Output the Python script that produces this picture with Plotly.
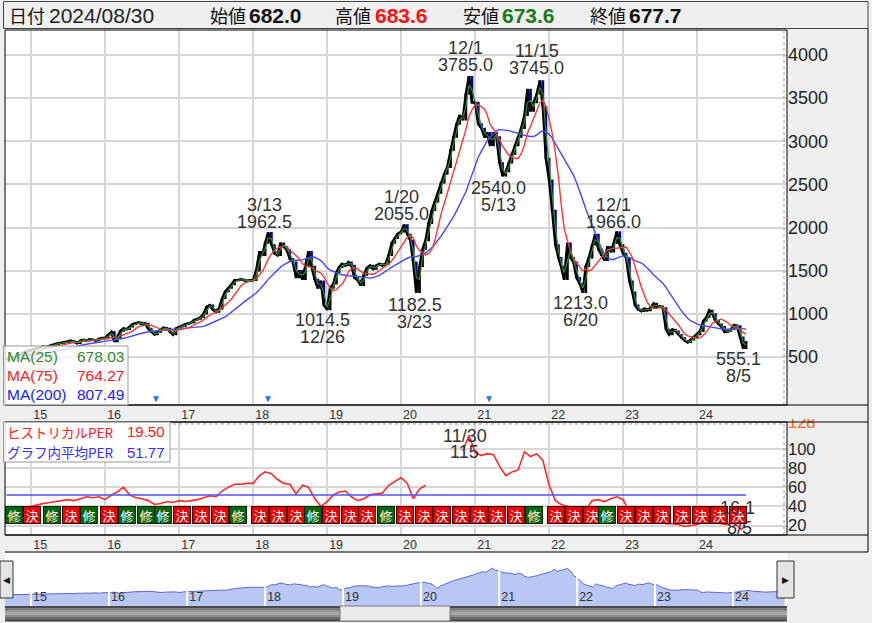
import plotly.graph_objects as go
import pandas as pd

W, H = 872, 623
def PX(x): return x / W
def PY(y): return 1 - y / H

NUM = "Liberation Sans, Arial, sans-serif"
JP = "Noto Sans CJK JP, sans-serif"

# ---------------- DATA ----------------
# closing prices, twice a month (1st and 16th), starting 2014-09-01
close_2014 = [470, 480, 500, 490, 520, 540, 560, 570]
close_2015 = [580, 590, 600, 610, 620, 615, 630, 640, 650, 660, 665, 670,
              680, 690, 675, 660, 690, 700, 690, 705, 700, 690, 710, 720]
close_2016 = [720, 760, 790, 680, 730, 800, 830, 820, 850, 880, 890, 900,
              880, 890, 830, 790, 760, 790, 820, 840, 830, 790, 760, 830]
close_2017 = [850, 860, 880, 890, 900, 930, 940, 960, 1000, 1080, 1100, 1050,
              1020, 1060, 1180, 1260, 1300, 1340, 1390, 1390, 1400, 1390, 1380, 1390]
close_2018 = [1390, 1500, 1720, 1680, 1820, 1940, 1800, 1700, 1680, 1820, 1780, 1740,
              1640, 1600, 1420, 1500, 1400, 1560, 1720, 1550, 1400, 1300, 1380, 1100]
close_2019 = [1050, 1300, 1350, 1480, 1540, 1580, 1560, 1600, 1560, 1420, 1390, 1330,
              1450, 1530, 1560, 1520, 1560, 1580, 1560, 1580, 1680, 1820, 1880, 1930]
close_2020 = [1950, 2030, 1920, 1850, 1600, 1250, 1550, 1750, 1850, 2050, 2200, 2300,
              2400, 2520, 2620, 2700, 2900, 3050, 3200, 3300, 3250, 3550, 3750, 3450]
close_2021 = [3450, 3200, 3150, 3050, 3100, 2950, 3100, 3050, 2750, 2600, 2650, 2750,
              2850, 2950, 3050, 3150, 3300, 3600, 3350, 3450, 3550, 3700, 3400, 2800]
close_2022 = [2550, 2200, 1800, 1650, 1550, 1400, 1820, 1650, 1600, 1420, 1350, 1250,
              1550, 1650, 1800, 1920, 1750, 1680, 1620, 1780, 1720, 1820, 1950, 1800]
close_2023 = [1700, 1650, 1380, 1250, 1100, 1050, 1030, 1060, 1040, 1070, 1120, 1080,
              1090, 1070, 820, 760, 820, 800, 760, 720, 690, 670, 700, 730]
close_2024 = [760, 800, 920, 960, 1040, 1000, 920, 880, 850, 790, 800, 820,
              870, 860, 730, 600]
last_date = "2024-08-30"
last_close = 677.7

# historical PER, monthly (1st of month), starting 2014-09
per_2014 = [34, 36, 37, 39]
per_2015 = [40, 42, 43, 44, 45, 46, 47, 46, 48, 50, 49, 50]
per_2016 = [47, 52, 55, 60, 52, 49, 48, 46, 42, 43, 45, 44]
per_2017 = [46, 45, 46, 47, 49, 51, 50, 56, 60, 63, 63, 64]
per_2018 = [64, 72, 76, 74, 68, 64, 63, 53, 62, 60, 48, 40]
per_2019 = [45, 52, 55, 56, 50, 46, 48, 52, 53, 54, 62, 66]
per_2020 = [70, 64, 48, 58, 62, None, None, None, None, None, 98, 114]
per_2021 = [96, 93, 95, 94, 82, 72, 76, 78, 97, 92, 95, 88]
per_2022 = [62, 46, 42, 40, 38, 33, 36, 46, 47, 45, 48, 50]
per_2023 = [47, 34, 28, 28, 30, 30, 29, 22, 22, 21, 19, 20]
per_2024 = [21, 24, 26, 24, 22, 21, 23]
per_tail_dates = ["2024-08-05", "2024-08-30"]
per_tail_vals = [16.1, 19.5]
per_average = 51.77

# labelled highs / lows
hi_dates = ["2018-03-13", "2020-01-20", "2020-12-01", "2021-11-15", "2022-12-01"]
hi_vals = [1962.5, 2055.0, 3785.0, 3745.0, 1966.0]
lo_dates = ["2018-12-26", "2020-03-23", "2021-05-13", "2022-06-20", "2024-08-05"]
lo_vals = [1014.5, 1182.5, 2540.0, 1213.0, 555.1]
per_hi_date, per_hi_val = "2020-11-30", 115
per_lo_date, per_lo_val = "2024-08-05", 16.1

# earnings events (修 = revision, 決 = results)
earn_dates = ["2014-10-10", "2015-01-05", "2015-04-12", "2015-07-19", "2015-10-12",
              "2016-01-19", "2016-04-19", "2016-07-19", "2016-10-12", "2017-01-15",
              "2017-04-19", "2017-07-19", "2017-10-19", "2018-02-03", "2018-05-04",
              "2018-07-31", "2018-10-23", "2019-01-19", "2019-04-23", "2019-07-19",
              "2019-10-19", "2020-01-19", "2020-04-23", "2020-07-19", "2020-10-23",
              "2021-01-19", "2021-04-19", "2021-07-19", "2021-10-19", "2022-02-03",
              "2022-05-04", "2022-07-31", "2022-10-12", "2023-01-15", "2023-04-12",
              "2023-07-12", "2023-10-19", "2024-01-19", "2024-04-19", "2024-07-19"]
earn_kinds = list("修決修決修決修修修決決決修決決決修決決決修決決決決決決決修決決決修決決決決決決決")

# split markers
mark_dates = ["2016-09-09", "2018-03-14", "2021-03-10"]

years = list(range(2015, 2025))
year_labels = [f"{y % 100:02d}" for y in years]

header_date = "2024/08/30"
header_open, header_high, header_low, header_close = "682.0", "683.6", "673.6", "677.7"
ma_names = ["MA(25)", "MA(75)", "MA(200)"]
ma_values = ["678.03", "764.27", "807.49"]
per_names = ["ヒストリカルPER", "グラフ内平均PER"]
per_values = ["19.50", "51.77"]

# ---------------- BUILD SERIES ----------------
def semimonthly(y, m, n):
    out, h = [], 0
    for _ in range(n):
        out.append(f"{y}-{m:02d}-{'01' if h == 0 else '16'}")
        h += 1
        if h == 2:
            h = 0
            m += 1
            if m == 13:
                m, y = 1, y + 1
    return out

def monthly(y, m, n):
    out = []
    for _ in range(n):
        out.append(f"{y}-{m:02d}-01")
        m += 1
        if m == 13:
            m, y = 1, y + 1
    return out

closes = (close_2014 + close_2015 + close_2016 + close_2017 + close_2018 + close_2019 +
          close_2020 + close_2021 + close_2022 + close_2023 + close_2024)
dates = semimonthly(2014, 9, len(closes)) + [last_date]
closes = closes + [last_close]
opens = [closes[0]] + closes[:-1]
highs = [max(o, c) for o, c in zip(opens, closes)]
lows = [min(o, c) for o, c in zip(opens, closes)]
s = pd.Series(closes)
ma25 = s.rolling(2, min_periods=1).mean()
ma75 = s.rolling(7, min_periods=1).mean()
ma200 = s.rolling(19, min_periods=1).mean()

per_vals = (per_2014 + per_2015 + per_2016 + per_2017 + per_2018 + per_2019 + per_2020 +
            per_2021 + per_2022 + per_2023 + per_2024)
per_dates = monthly(2014, 9, len(per_vals)) + per_tail_dates
per_vals = per_vals + per_tail_vals

# ---------------- FIGURE ----------------
fig = go.Figure()
fig.add_trace(go.Scatter(x=dates, y=closes, mode="lines", line=dict(color="#000000", width=2.6),
                         xaxis="x", yaxis="y", hoverinfo="skip"))
fig.add_trace(go.Candlestick(
    x=dates, open=opens, high=highs, low=lows, close=closes,
    increasing=dict(line=dict(color="#000000", width=1.4), fillcolor="#000000"),
    decreasing=dict(line=dict(color="#00009a", width=1.4), fillcolor="#00009a"),
    whiskerwidth=0, xaxis="x", yaxis="y", hoverinfo="skip"))
fig.add_trace(go.Scatter(x=dates, y=ma200, mode="lines", line=dict(color="#4646ff", width=1.4),
                         xaxis="x", yaxis="y"))
fig.add_trace(go.Scatter(x=dates, y=ma75, mode="lines", line=dict(color="#ff3535", width=1.4),
                         xaxis="x", yaxis="y"))
fig.add_trace(go.Scatter(x=dates, y=ma25, mode="lines", line=dict(color="#2e8b2e", width=1.2),
                         xaxis="x", yaxis="y"))

fig.add_trace(go.Scatter(x=per_dates, y=per_vals, mode="lines", connectgaps=False,
                         line=dict(color="#ff2a2a", width=1.6), xaxis="x2", yaxis="y2"))
fig.add_trace(go.Scatter(x=[per_dates[0], per_dates[-1]], y=[per_average, per_average], mode="lines",
                         line=dict(color="#5050ff", width=1.5), xaxis="x2", yaxis="y2"))

# navigator
nav_floor = -900
fig.add_trace(go.Scatter(x=dates, y=[nav_floor] * len(dates), mode="lines",
                         line=dict(width=0, color="rgba(0,0,0,0)"), xaxis="x3", yaxis="y3"))
fig.add_trace(go.Scatter(x=dates, y=closes, mode="lines", fill="tonexty", fillcolor="#b9c7f6",
                         line=dict(color="#5d6bc9", width=1), xaxis="x3", yaxis="y3"))

year_ticks = [f"{y}-01-01" for y in years]
xdom = [PX(5), PX(787)]
common_x = dict(type="date", range=["2014-08-25", "2025-03-20"], domain=xdom,
                tickvals=year_ticks, ticktext=year_labels, showgrid=True,
                gridcolor="#d7d7d7", gridwidth=2, zeroline=False, ticks="", showline=False,
                tickfont=dict(family=NUM, size=12.5, color="#333"), ticklabelshift=9,
                fixedrange=True, automargin=False)

fig.update_layout(
    width=W, height=H, margin=dict(l=0, r=0, t=0, b=0, pad=0),
    paper_bgcolor="#efefef", plot_bgcolor="#ffffff", showlegend=False,
    xaxis=dict(**common_x, anchor="y", rangeslider=dict(visible=False)),
    xaxis2=dict(**common_x, anchor="y2"),
    yaxis=dict(domain=[PY(405), PY(30)], range=[-56, 4290], side="right", anchor="x",
               tickvals=[500, 1000, 1500, 2000, 2500, 3000, 3500, 4000],
               gridcolor="#d7d7d7", gridwidth=2, zeroline=False, ticks="",
               tickfont=dict(family=NUM, size=18, color="#222"), fixedrange=True, automargin=False),
    yaxis2=dict(domain=[PY(535), PY(422)], range=[10.1, 128.05], side="right", anchor="x2",
                tickvals=[20, 40, 60, 80, 100, 128],
                ticktext=["20", "40", "60", "80", "100", "<span style='color:#ff6a1a'>128</span>"],
                gridcolor="#d7d7d7", gridwidth=2, zeroline=False, ticks="",
                tickfont=dict(family=NUM, size=16.5, color="#222"), fixedrange=True, automargin=False),
    xaxis3=dict(type="date", range=["2014-09-01", "2024-09-10"], domain=xdom, anchor="y3",
                tickvals=year_ticks, ticktext=year_labels, showgrid=False, zeroline=False,
                ticks="", showline=False, ticklabelposition="inside", ticklabelshift=9,
                layer="above traces", tickfont=dict(family=NUM, size=12.5, color="#333"),
                fixedrange=True, automargin=False),
    yaxis3=dict(domain=[PY(606), PY(553)], range=[nav_floor, 5600], visible=False,
                anchor="x3", fixedrange=True, automargin=False),
)

shapes = []
def rect(x0, y0, x1, y1, fill=None, line="#000", lw=1, layer="above", dash=None):
    shapes.append(dict(type="rect", xref="paper", yref="paper", x0=PX(x0), x1=PX(x1),
                       y0=PY(y1), y1=PY(y0), fillcolor=fill if fill else "rgba(0,0,0,0)",
                       line=dict(color=line, width=lw, dash=dash) if lw else dict(width=0),
                       layer=layer))
def hline(x0, x1, y, color="#000", lw=1, dash=None):
    shapes.append(dict(type="line", xref="paper", yref="paper", x0=PX(x0), x1=PX(x1),
                       y0=PY(y), y1=PY(y), line=dict(color=color, width=lw, dash=dash), layer="above"))
def vline(x, y0, y1, color="#000", lw=1, dash=None):
    shapes.append(dict(type="line", xref="paper", yref="paper", x0=PX(x), x1=PX(x),
                       y0=PY(y0), y1=PY(y1), line=dict(color=color, width=lw, dash=dash), layer="above"))

# header bar
rect(3.5, 1.5, 868, 28.5, fill="#efefef", line="#444")
# cover top of the '128' label in the right strip
rect(788, 406, 867, 419, fill="#efefef", lw=0)
# panels
rect(5, 30, 787, 405, line="#000")
vline(784, 30, 405, color="#999", dash="dot")
hline(5, 868, 405)
hline(5, 868, 422)
rect(5, 422, 787, 535, line="#000")
hline(5, 784, 424, color="#999", dash="dot")
vline(784, 424, 535, color="#999", dash="dot")
hline(5, 868, 535)
hline(5, 868, 552)
vline(868, 28.5, 552)
# legend boxes
rect(3.5, 346, 128, 405, fill="rgba(255,255,255,0.78)", line="#999")
rect(3.5, 422, 170, 462, fill="rgba(255,255,255,0.85)", line="#999")
# navigator year lines
for yt in year_ticks:
    shapes.append(dict(type="line", xref="x3", yref="paper", x0=yt, x1=yt, y0=PY(606), y1=PY(553),
                       line=dict(color="#ffffff", width=2), layer="above"))
# scrollbar
stripe_cols = ["#4a4a4a", "#6e6e6e", "#8e8e8e", "#a2a2a2", "#8e8e8e", "#6a6a6a", "#404040"]
for i, c in enumerate(stripe_cols):
    rect(5, 606 + i * 2.2, 787, 606 + (i + 1) * 2.2, fill=c, lw=0)
rect(340, 606, 450, 621, fill="#ececec", line="#777")
# navigator buttons
rect(0, 561, 13, 598, fill="#e4e4e4", line="#333")
rect(777, 561, 794, 598, fill="#e4e4e4", line="#333")

ann = []
def text(x, y, s, size, color, family=NUM, xanchor="left"):
    ann.append(dict(x=PX(x), y=PY(y), xref="paper", yref="paper", text=s, showarrow=False,
                    xanchor=xanchor, yanchor="middle", font=dict(family=family, size=size, color=color)))

def md(d):
    _, m, dd = d.split("-")
    return f"{int(m)}/{int(dd)}"

LBL = "#333333"
for d, v in zip(hi_dates, hi_vals):
    ann.append(dict(x=d, y=v, xref="x", yref="y", text=f"{v:.1f}", showarrow=False, xshift=-3, yshift=9,
                    font=dict(family=NUM, size=18, color=LBL)))
    ann.append(dict(x=d, y=v, xref="x", yref="y", text=md(d), showarrow=False, xshift=-3, yshift=26,
                    font=dict(family=NUM, size=18, color=LBL)))
for d, v in zip(lo_dates, lo_vals):
    ann.append(dict(x=d, y=v, xref="x", yref="y", text=f"{v:.1f}", showarrow=False, xshift=-3, yshift=-7,
                    font=dict(family=NUM, size=18, color=LBL)))
    ann.append(dict(x=d, y=v, xref="x", yref="y", text=md(d), showarrow=False, xshift=-3, yshift=-24,
                    font=dict(family=NUM, size=18, color=LBL)))
ann.append(dict(x=per_hi_date, y=per_hi_val, xref="x2", yref="y2", text=md(per_hi_date), showarrow=False,
                xshift=-4, yshift=-1, font=dict(family=NUM, size=18, color=LBL)))
ann.append(dict(x=per_hi_date, y=per_hi_val, xref="x2", yref="y2", text=f"{per_hi_val}", showarrow=False,
                xshift=-4, yshift=-17, font=dict(family=NUM, size=18, color=LBL)))
ann.append(dict(x=per_lo_date, y=per_lo_val, xref="x2", yref="y2", text=md(per_lo_date), showarrow=False,
                xshift=-2, yshift=1, font=dict(family=NUM, size=18, color=LBL)))

# earnings boxes
for d, k in zip(earn_dates, earn_kinds):
    ann.append(dict(x=d, y=PY(524), xref="x2", yref="paper", text=k, showarrow=False,
                    font=dict(family=JP, size=13, color="#ffffff"),
                    bgcolor="#ee0000" if k == "決" else "#0b640b",
                    bordercolor="#3a0000" if k == "決" else "#002a00", borderwidth=1, borderpad=0.5,
                    width=15, height=15))

# PER low value label drawn on top of the boxes
ann.append(dict(x=per_lo_date, y=per_lo_val, xref="x2", yref="y2", text=f"{per_lo_val}", showarrow=False,
                xshift=-4, yshift=21, font=dict(family=NUM, size=18, color=LBL)))

# split markers
for d in mark_dates:
    ann.append(dict(x=d, y=PY(398), xref="x", yref="paper", text="▼", showarrow=False,
                    font=dict(family=NUM, size=10, color="#1e73e8")))

# MA legend
ma_cols = ["#2e8b2e", "#ff2020", "#2020ff"]
for i, (n, v) in enumerate(zip(ma_names, ma_values)):
    text(5, 356 + i * 19.5, n, 15.5, ma_cols[i])
    text(126, 356 + i * 19.5, v, 15.5, ma_cols[i], xanchor="right")
# PER legend
per_cols = ["#ff2020", "#3030ff"]
for i, (n, v) in enumerate(zip(per_names, per_values)):
    text(5, 432 + i * 20, n, 13.5, per_cols[i], family=JP)
    text(167, 432 + i * 20, v, 15, per_cols[i], xanchor="right")

# header
text(7, 15, "日付", 18, "#111", family=JP)
text(47, 15, header_date, 21, "#222")
text(208, 15, "始値", 18, "#111", family=JP)
text(247, 15, f"<b>{header_open}</b>", 21, "#111")
text(333, 15, "高値", 18, "#111", family=JP)
text(373, 15, f"<b>{header_high}</b>", 21, "#ff1010")
text(461, 15, "安値", 18, "#111", family=JP)
text(500, 15, f"<b>{header_low}</b>", 21, "#1a7a1a")
text(588, 15, "終値", 18, "#111", family=JP)
text(627, 15, f"<b>{header_close}</b>", 21, "#111")

# navigator buttons
text(6.5, 579.5, "◀", 9, "#111", xanchor="center")
text(785.5, 579.5, "▶", 9, "#111", xanchor="center")

fig.update_layout(shapes=shapes, annotations=ann)
fig.write_html("out.html", config={"displayModeBar": False})
